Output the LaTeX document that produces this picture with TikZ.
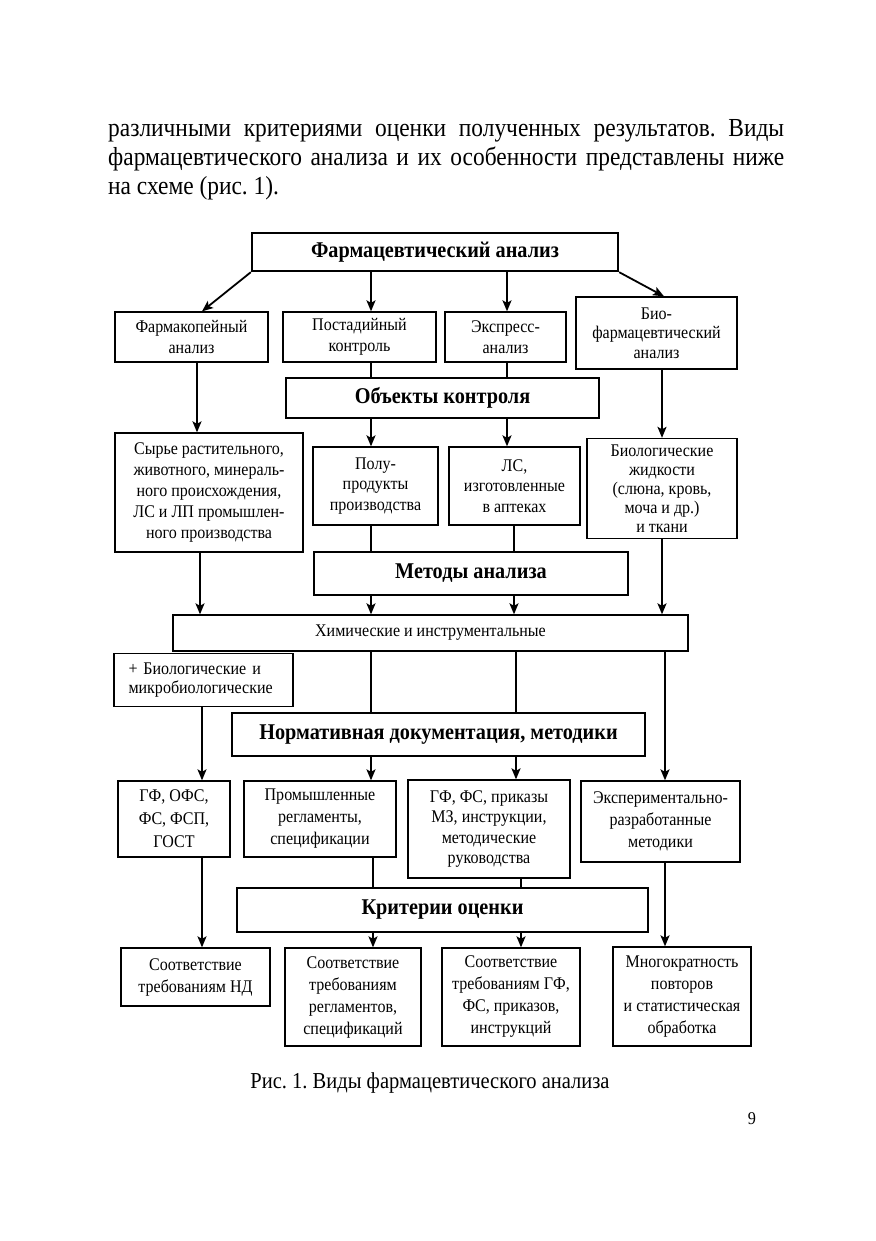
\documentclass[tikz,border=0pt]{standalone}
\usepackage{fontspec}
\setmainfont[FakeStretch=0.9]{Liberation Serif}
\usetikzlibrary{arrows.meta}
\frenchspacing
\begin{document}
\begin{tikzpicture}[x=1pt,y=-1pt,
  box/.style={draw, line width=1.3pt, align=center, inner sep=0pt, font=\fontsize{17.8}{20.5}\selectfont},
  hbox/.style={draw, line width=2.4pt, align=center, inner sep=0pt, font=\bfseries\fontsize{22.5}{26}\selectfont},
  ln/.style={line width=1.8pt},
  arr/.style={line width=1.8pt, -{Stealth[length=11pt,width=9pt,inset=2.5pt]}},
  body/.style={inner sep=0pt, font=\fontsize{26}{29}\selectfont}]
\useasboundingbox (0,0) rectangle (875,1241);
% paragraph
\node[body, anchor=base west] (p1) at (108,137) {\makebox[676pt][s]{различными критериями оценки полученных результатов. Виды}};
\node[body, anchor=base west] (p2) at (108,166) {\makebox[676pt][s]{фармацевтического анализа и их особенности представлены ниже}};
\node[body, anchor=base west] (p3) at (108,195) {на схеме (рис.~1).};
% column coordinates
\coordinate (x197) at (197,0);
\coordinate (x200) at (200,0);
\coordinate (x202) at (202,0);
\coordinate (x371) at (371,0);
\coordinate (x373) at (373,0);
\coordinate (x507) at (507,0);
\coordinate (x514) at (514,0);
\coordinate (x516) at (516,0);
\coordinate (x521) at (521,0);
\coordinate (x662) at (662,0);
\coordinate (x665) at (665,0);
\coordinate (x664) at (664,0);
% nodes
\node[hbox, minimum width=366pt, minimum height=38pt] (T) at (435,252) {Фармацевтический анализ};
\node[box, minimum width=153pt, minimum height=50pt] (A1) at (191.5,337) {Фармакопейный\\анализ};
\node[box, minimum width=153pt, minimum height=50pt] (A2) at (359.5,337) {Постадийный\\контроль};
\node[box, minimum width=121pt, minimum height=50pt] (A3) at (505.5,337) {Экспресс-\\анализ};
\node[box, minimum width=161pt, minimum height=72pt, font=\fontsize{17.8}{19.5}\selectfont] (A4) at (656.5,333) {Био-\\фармацевтический\\анализ};
\node[hbox, minimum width=313pt, minimum height=40pt] (O) at (442.5,398) {Объекты контроля};
\node[box, minimum width=188pt, minimum height=119pt, font=\fontsize{17.8}{21}\selectfont] (B1) at (209,492.5) {Сырье растительного,\\животного, минераль-\\ного происхождения,\\ЛС и ЛП промышлен-\\ного производства};
\node[box, minimum width=125pt, minimum height=78pt] (B2) at (375.5,486) {Полу-\\продукты\\производства};
\node[box, minimum width=131pt, minimum height=78pt] (B3) at (514.5,486) {ЛС,\\изготовленные\\в аптеках};
\node[box, minimum width=150pt, minimum height=100pt, font=\fontsize{17.8}{19}\selectfont] (B4) at (662,488.5) {Биологические\\жидкости\\(слюна, кровь,\\моча и др.)\\и ткани};
\node[hbox, minimum width=314pt, minimum height=43pt] (M) at (471,573.5) {Методы анализа};
\node[box, minimum width=515pt, minimum height=36pt] (C) at (430.5,633) {Химические и инструментальные};
\node[box, minimum width=179pt, minimum height=53pt, align=left, text width=150pt, font=\fontsize{17.8}{19}\selectfont] (D) at (203.5,680) {+ Биологические и\\микробиологические};
\node[hbox, minimum width=413pt, minimum height=43pt] (N) at (438.5,734.5) {Нормативная документация, методики};
\node[box, minimum width=112pt, minimum height=76pt, font=\fontsize{17.8}{23}\selectfont] (E1) at (174,819) {ГФ, ОФС,\\ФС, ФСП,\\ГОСТ};
\node[box, minimum width=152pt, minimum height=76pt, font=\fontsize{17.8}{22}\selectfont] (E2) at (320,819) {Промышленные\\регламенты,\\спецификации};
\node[box, minimum width=162pt, minimum height=98pt] (E3) at (489,829) {ГФ, ФС, приказы\\МЗ, инструкции,\\методические\\руководства};
\node[box, minimum width=159pt, minimum height=81pt, font=\fontsize{17.8}{22}\selectfont] (E4) at (660.5,821.5) {Экспериментально-\\разработанные\\методики};
\node[hbox, minimum width=411pt, minimum height=44pt] (K) at (442.5,910) {Критерии оценки};
\node[box, minimum width=149pt, minimum height=58pt, font=\fontsize{17.8}{22}\selectfont] (F1) at (195.5,977) {Соответствие\\требованиям НД};
\node[box, minimum width=136pt, minimum height=98pt, font=\fontsize{17.8}{22}\selectfont] (F2) at (353,997) {Соответствие\\требованиям\\регламентов,\\спецификаций};
\node[box, minimum width=138pt, minimum height=98pt, font=\fontsize{17.8}{22}\selectfont] (F3) at (511,997) {Соответствие\\требованиям ГФ,\\ФС, приказов,\\инструкций};
\node[box, minimum width=138pt, minimum height=99pt, font=\fontsize{17.8}{22}\selectfont] (F4) at (682,996.5) {Многократность\\повторов\\и статистическая\\обработка};
% caption
\node[inner sep=0pt, anchor=base, font=\fontsize{22.8}{26}\selectfont] (cap) at (430,1088) {Рис. 1. Виды фармацевтического анализа};
\node[inner sep=0pt, anchor=base, font=\fontsize{18}{22}\selectfont] (pg) at (752,1124) {9};
% connectors
\draw[arr] (T.south west) -- (A1.north -| x202);
\draw[arr] (T.south -| x371) -- (A2.north -| x371);
\draw[arr] (T.south -| x507) -- (A3.north -| x507);
\draw[arr] (T.south east) -- (A4.north -| x664);
\draw[ln] (A2.south -| x371) -- (O.north -| x371);
\draw[ln] (A3.south -| x507) -- (O.north -| x507);
\draw[arr] (A1.south -| x197) -- (B1.north -| x197);
\draw[arr] (O.south -| x371) -- (B2.north -| x371);
\draw[arr] (O.south -| x507) -- (B3.north -| x507);
\draw[arr] (A4.south -| x662) -- (B4.north -| x662);
\draw[ln] (B2.south -| x371) -- (M.north -| x371);
\draw[ln] (B3.south -| x514) -- (M.north -| x514);
\draw[arr] (B1.south -| x200) -- (C.north -| x200);
\draw[arr] (M.south -| x371) -- (C.north -| x371);
\draw[arr] (M.south -| x514) -- (C.north -| x514);
\draw[arr] (B4.south -| x662) -- (C.north -| x662);
\draw[ln] (C.south -| x371) -- (N.north -| x371);
\draw[ln] (C.south -| x516) -- (N.north -| x516);
\draw[arr] (C.south -| x665) -- (E4.north -| x665);
\draw[arr] (D.south -| x202) -- (E1.north -| x202);
\draw[arr] (N.south -| x371) -- (E2.north -| x371);
\draw[arr] (N.south -| x516) -- (E3.north -| x516);
\draw[ln] (E2.south -| x373) -- (K.north -| x373);
\draw[ln] (E3.south -| x521) -- (K.north -| x521);
\draw[arr] (E1.south -| x202) -- (F1.north -| x202);
\draw[arr] (K.south -| x373) -- (F2.north -| x373);
\draw[arr] (K.south -| x521) -- (F3.north -| x521);
\draw[arr] (E4.south -| x665) -- (F4.north -| x665);
\end{tikzpicture}
\end{document}
